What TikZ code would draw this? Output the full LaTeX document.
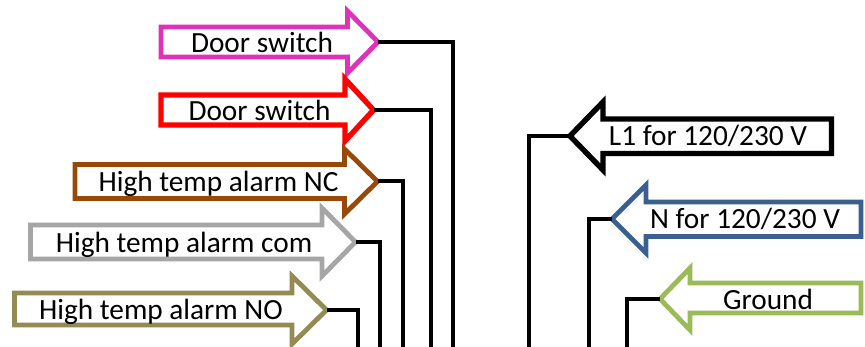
\documentclass[tikz,border=0pt]{standalone}
\usepackage{fontspec}
\setmainfont{Carlito}
\tikzset{
  wire/.style={draw=black,line width=#1},
  wire/.default=4pt,
  flag/.style={line width=4.8pt,fill=white,miter limit=10},
  flagtext/.style={anchor=base,inner sep=0pt,font=\fontsize{29.3}{32}\selectfont,text=black}
}
\definecolor{cpink}{HTML}{E032B8}
\definecolor{cred}{HTML}{FF0000}
\definecolor{cbrown}{HTML}{984807}
\definecolor{cgray}{HTML}{A6A6A6}
\definecolor{colive}{HTML}{948A54}
\definecolor{cblue}{HTML}{3B5F8F}
\definecolor{cgreen}{HTML}{9BBB59}
% name, tail x, top, bottom, neck x, tip x, head top, head bottom, style
\newcommand{\flagarrow}[9]{%
  \draw[flag,#9] (#2,#3) -- (#5,#3) -- (#5,#7) -- (#6,{(#7+#8)/2}) -- (#5,#8) -- (#5,#4) -- (#2,#4) -- cycle;
  \coordinate (#1) at (#6,{(#7+#8)/2});
}
\begin{document}
\begin{tikzpicture}[x=1pt,y=-1pt]
\useasboundingbox (0,0) rectangle (865,347);
\fill[white] (0,0) rectangle (865,347);
% wire ends at the lower edge
\coordinate (e1) at (453,349);
\coordinate (e2) at (430.5,349);
\coordinate (e3) at (402.5,349);
\coordinate (e4) at (380,349);
\coordinate (e5) at (357.5,349);
\coordinate (e6) at (529,349);
\coordinate (e7) at (589,349);
\coordinate (e8) at (627,349);
% arrows
\flagarrow{a1}{161}{27}{57}{347.5}{378}{11}{73}{draw=cpink}
\flagarrow{a2}{161}{95}{125}{345}{373.5}{79}{141}{draw=cred,line width=5.4pt}
\flagarrow{a3}{75}{164.5}{198.5}{344.5}{377.5}{149}{214}{draw=cbrown}
\flagarrow{a4}{30.5}{225}{259}{322}{355.5}{208}{276}{draw=cgray}
\flagarrow{a5}{14.5}{293}{325}{292}{326.5}{276}{344}{draw=colive}
\flagarrow{a6}{831.5}{119}{153.5}{603}{570}{102}{170}{draw=black,line width=5.4pt}
\flagarrow{a7}{861}{202}{236.5}{646}{612}{185}{253}{draw=cblue}
\flagarrow{a8}{861}{283}{313}{690}{660}{268}{330}{draw=cgreen}
% connectors
\draw[wire] (a1) -| (e1);
\draw[wire] (a2) -| (e2);
\draw[wire] (a3) -| (e3);
\draw[wire] (a4) -| (e4);
\draw[wire] (a5) -| (e5);
\draw[wire] (a6) -| (e6);
\draw[wire] (a7) -| (e7);
\draw[wire] (a8) -| (e8);
% labels
\node[flagtext] (t1) at (262,53) {Door switch};
\node[flagtext] (t2) at (259.5,121) {Door switch};
\node[flagtext] (t3) at (218.5,191.5) {High temp alarm NC};
\node[flagtext] (t4) at (184,252.5) {High temp alarm com};
\node[flagtext] (t5) at (161,320) {High temp alarm NO};
\node[flagtext] (t6) at (708,146) {L1 for 120/230 V};
\node[flagtext] (t7) at (745,229) {N for 120/230 V};
\node[flagtext] (t8) at (768,309.5) {Ground};
\end{tikzpicture}
\end{document}
